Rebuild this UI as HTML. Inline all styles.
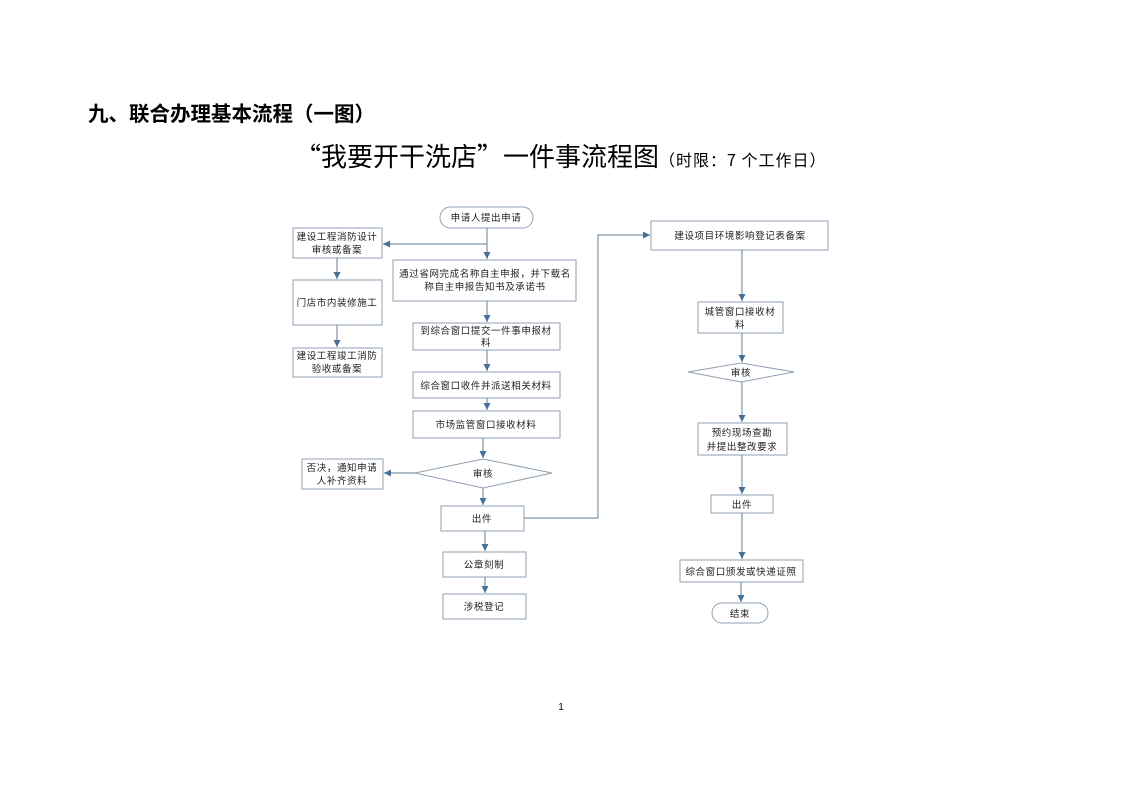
<!DOCTYPE html>
<html><head><meta charset="utf-8"><style>
html,body{margin:0;padding:0;background:#fff;}
body{width:1122px;height:793px;position:relative;overflow:hidden;}
svg text{font-family:"Liberation Sans","Noto Sans CJK SC",sans-serif;}
</style></head><body>
<svg width="1122" height="793" viewBox="0 0 1122 793" xmlns="http://www.w3.org/2000/svg">
<defs><marker id="a" markerWidth="8" markerHeight="8" refX="7" refY="4" orient="auto" markerUnits="userSpaceOnUse"><path d="M0,0.5 L7,4 L0,7.5 z" fill="#4a6f96"/></marker></defs>
<text x="88" y="121" font-size="20.5" font-weight="bold" fill="#000">九、联合办理基本流程（一图）</text>
<text x="295" y="166" font-size="26" fill="#000" style='font-family:"Noto Sans CJK SC",sans-serif'>“我要开干洗店”一件事流程图<tspan font-size="16" letter-spacing="1">（时限：7 个工作日）</tspan></text>
<text x="561" y="710" font-size="10" fill="#000" text-anchor="middle">1</text>

<g fill="#fff" stroke="#8fa0b3" stroke-width="1">
<rect x="440" y="207" width="93" height="21" rx="10.5"/>
<rect x="293" y="228" width="89" height="30"/>
<rect x="293" y="280" width="89" height="45"/>
<rect x="293" y="348" width="89" height="29"/>
<rect x="393" y="260" width="183" height="41"/>
<rect x="413" y="323" width="147" height="27"/>
<rect x="413" y="372" width="147" height="26"/>
<rect x="413" y="411" width="147" height="27"/>
<polygon points="415,473 483,459 552,473 483,488"/>
<rect x="302" y="459" width="81" height="30"/>
<rect x="441" y="506" width="83" height="25"/>
<rect x="443" y="552" width="83" height="25"/>
<rect x="443" y="594" width="83" height="25"/>
<rect x="651" y="221" width="177" height="29"/>
<rect x="698" y="302" width="85" height="31"/>
<polygon points="688,372 741,363 794,372 741,382"/>
<rect x="698" y="423" width="89" height="32"/>
<rect x="711" y="495" width="62" height="18"/>
<rect x="680" y="560" width="123" height="22"/>
<rect x="712" y="603" width="56" height="20" rx="10"/>
</g>

<g stroke="#7f93a8" stroke-width="1.2" fill="none" marker-end="url(#a)">
<line x1="487" y1="228" x2="487" y2="259"/>
<polyline points="487,244 383,244"/>
<line x1="337" y1="258" x2="337" y2="279"/>
<line x1="337" y1="325" x2="337" y2="347"/>
<line x1="487" y1="301" x2="487" y2="322"/>
<line x1="487" y1="350" x2="487" y2="371"/>
<line x1="487" y1="398" x2="487" y2="410"/>
<line x1="483" y1="438" x2="483" y2="458"/>
<line x1="415" y1="473" x2="384" y2="473"/>
<line x1="483" y1="488" x2="483" y2="505"/>
<line x1="485" y1="531" x2="485" y2="551"/>
<line x1="485" y1="577" x2="485" y2="593"/>
<polyline points="524,518 598,518 598,235 650,235"/>
<line x1="742" y1="250" x2="742" y2="301"/>
<line x1="742" y1="333" x2="742" y2="362"/>
<line x1="742" y1="382" x2="742" y2="422"/>
<line x1="742" y1="455" x2="742" y2="494"/>
<line x1="742" y1="513" x2="742" y2="559"/>
<line x1="741" y1="582" x2="741" y2="602"/>
</g>

<g font-size="9.5" fill="#222" text-anchor="middle" letter-spacing="0.6">
<text x="486" y="221">申请人提出申请</text>
<text x="337" y="240">建设工程消防设计</text>
<text x="337" y="253">审核或备案</text>
<text x="337" y="306">门店市内装修施工</text>
<text x="337" y="359">建设工程竣工消防</text>
<text x="337" y="372">验收或备案</text>
<text x="485" y="277">通过省网完成名称自主申报，并下载名</text>
<text x="485" y="290">称自主申报告知书及承诺书</text>
<text x="486" y="334">到综合窗口提交一件事申报材</text>
<text x="486" y="346">料</text>
<text x="486" y="389">综合窗口收件并派送相关材料</text>
<text x="486" y="428">市场监管窗口接收材料</text>
<text x="483" y="477">审核</text>
<text x="342" y="471">否决，通知申请</text>
<text x="342" y="484">人补齐资料</text>
<text x="482" y="522">出件</text>
<text x="484" y="568">公章刻制</text>
<text x="484" y="610">涉税登记</text>
<text x="740" y="239">建设项目环境影响登记表备案</text>
<text x="740" y="315">城管窗口接收材</text>
<text x="740" y="328">料</text>
<text x="741" y="376">审核</text>
<text x="742" y="436">预约现场查勘</text>
<text x="742" y="450">并提出整改要求</text>
<text x="742" y="508">出件</text>
<text x="741" y="575">综合窗口颁发或快递证照</text>
<text x="740" y="617">结束</text>
</g>
</svg>
</body></html>
